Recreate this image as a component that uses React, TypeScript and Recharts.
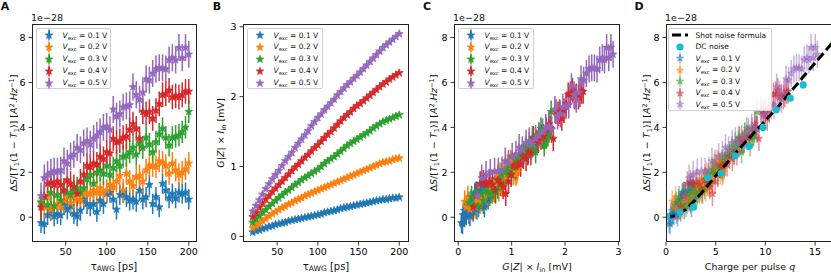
import React from "react";
import { ScatterChart, Scatter, XAxis, YAxis, ErrorBar } from "recharts";

const FONT = "'DejaVu Sans', sans-serif";

// pulse duration grid (ps)
const TAU = [
  20, 24, 28, 32, 36, 40, 44, 48, 52, 56, 60, 64, 68, 72, 76, 80, 84, 88, 92, 96,
  100, 104, 108, 112, 116, 120, 124, 128, 132, 136, 140, 144, 148, 152, 156, 160,
  164, 168, 172, 176, 180, 184, 188, 192, 196, 200,
];

const VEXC = ["0.1", "0.2", "0.3", "0.4", "0.5"];
const COLORS = ["#1f77b4", "#ff7f0e", "#2ca02c", "#d62728", "#9467bd"];
const ERR_BAR = [0.45, 0.5, 0.5, 0.55, 0.6];

// panel A: excess noise (units of 1e-28 A^2/Hz)
const NOISE_01 = [
  -0.25, -0.3, 0.1, 0.3, 0.05, 0.15, 0.1, 0.55, 0.35, 0.5, 0.15, 0.05, 0.3, 0.8, 0.6, 0.5,
  0.6, 0.25, 0.75, 0.6, 1.05, 1.1, 0.8, 0.35, 1.0, 1.1, 0.9, 0.75, 0.8, 0.7, 1.2, 0.8, 0.9,
  1.45, 0.6, 0.9, 0.45, 1.5, 1.2, 0.85, 1.05, 0.85, 1.1, 1.05, 1.1, 0.8,
];
const NOISE_02 = [
  0.7, 0.45, 0.9, 0.35, 0.5, 0.6, 0.45, 0.75, 0.9, 0.65, 0.9, 0.8, 0.75, 1.0, 1.1, 1.05,
  1.2, 1.1, 1.3, 1.1, 1.2, 1.45, 1.35, 1.6, 1.85, 1.2, 1.95, 1.6, 1.4, 1.8, 1.85, 1.6, 2.1,
  2.3, 2.3, 2.25, 2.5, 2.45, 2.3, 1.95, 2.4, 2.1, 1.9, 2.0, 2.15, 2.4,
];
const NOISE_03 = [
  0.65, 0.9, 0.55, 1.1, 0.5, 1.0, 0.75, 1.2, 1.1, 1.0, 1.15, 1.3, 1.1, 1.3, 1.7, 1.9, 1.5,
  2.0, 2.1, 1.95, 2.3, 1.9, 2.2, 2.5, 2.3, 2.7, 2.75, 2.9, 3.1, 2.8, 3.3, 3.1, 3.55, 3.25,
  2.9, 3.35, 3.7, 3.95, 3.55, 3.2, 3.55, 3.6, 3.65, 3.8, 4.0, 4.7,
];
const NOISE_04 = [
  0.45, 0.95, 1.5, 1.55, 1.45, 1.6, 1.45, 1.2, 1.65, 1.5, 1.35, 1.05, 1.6, 1.9, 2.3, 2.25,
  2.4, 2.35, 2.7, 2.6, 2.9, 2.85, 3.5, 3.35, 3.4, 3.55, 3.6, 3.9, 4.15, 3.95, 3.5, 4.7, 4.6,
  4.7, 4.4, 4.75, 5.05, 5.45, 5.5, 5.65, 5.35, 5.4, 5.35, 5.45, 5.6, 5.6,
];
const NOISE_05 = [
  0.95, 1.75, 1.9, 2.0, 2.05, 2.05, 2.1, 2.5, 2.4, 2.7, 2.8, 3.1, 3.0, 3.3, 3.4, 3.25, 3.5,
  3.65, 3.8, 4.0, 4.05, 3.9, 4.8, 4.5, 4.6, 4.9, 4.95, 5.0, 5.8, 5.45, 5.25, 5.55, 6.15, 6.1,
  6.4, 6.6, 6.65, 6.65, 6.6, 7.0, 7.1, 7.0, 7.55, 7.1, 7.55, 7.25,
];

// panel B: G|Z| x I_in (mV)
const GAIN_01 = [
  0.06, 0.08, 0.09, 0.11, 0.12, 0.14, 0.15, 0.17, 0.18, 0.19, 0.2, 0.22, 0.23, 0.24, 0.25,
  0.26, 0.27, 0.28, 0.29, 0.3, 0.31, 0.32, 0.34, 0.35, 0.36, 0.37, 0.38, 0.4, 0.41, 0.42,
  0.43, 0.44, 0.45, 0.46, 0.47, 0.48, 0.49, 0.5, 0.51, 0.52, 0.53, 0.53, 0.54, 0.55, 0.55,
  0.56,
];
const GAIN_02 = [
  0.12, 0.15, 0.18, 0.22, 0.25, 0.29, 0.32, 0.35, 0.38, 0.41, 0.43, 0.46, 0.48, 0.51, 0.53,
  0.55, 0.58, 0.6, 0.62, 0.64, 0.66, 0.68, 0.7, 0.72, 0.74, 0.76, 0.78, 0.8, 0.82, 0.84,
  0.86, 0.88, 0.9, 0.92, 0.94, 0.96, 0.98, 1.0, 1.02, 1.04, 1.06, 1.07, 1.08, 1.1, 1.11,
  1.12,
];
const GAIN_03 = [
  0.2, 0.25, 0.29, 0.34, 0.38, 0.43, 0.47, 0.51, 0.55, 0.59, 0.63, 0.66, 0.7, 0.74, 0.77,
  0.81, 0.84, 0.87, 0.9, 0.93, 0.96, 1.0, 1.04, 1.08, 1.11, 1.14, 1.18, 1.22, 1.26, 1.3,
  1.33, 1.36, 1.39, 1.42, 1.45, 1.48, 1.51, 1.55, 1.58, 1.61, 1.64, 1.66, 1.68, 1.7, 1.72,
  1.74,
];
const GAIN_04 = [
  0.28, 0.34, 0.41, 0.47, 0.53, 0.58, 0.64, 0.69, 0.74, 0.79, 0.84, 0.89, 0.94, 0.99, 1.03,
  1.08, 1.13, 1.17, 1.22, 1.27, 1.31, 1.36, 1.41, 1.46, 1.5, 1.55, 1.6, 1.65, 1.7, 1.74,
  1.78, 1.83, 1.87, 1.9, 1.94, 1.98, 2.02, 2.06, 2.1, 2.14, 2.18, 2.21, 2.25, 2.28, 2.31,
  2.34,
];
const GAIN_05 = [
  0.36, 0.44, 0.52, 0.6, 0.68, 0.75, 0.82, 0.88, 0.94, 1.01, 1.08, 1.14, 1.2, 1.27, 1.33,
  1.39, 1.45, 1.51, 1.58, 1.64, 1.7, 1.75, 1.81, 1.86, 1.91, 1.96, 2.02, 2.07, 2.12, 2.17,
  2.21, 2.26, 2.3, 2.35, 2.4, 2.45, 2.5, 2.55, 2.6, 2.65, 2.7, 2.74, 2.78, 2.82, 2.86, 2.9,
];

// panel D
const Q_PER_MV = 5.25; // charge per pulse for 1 mV of G|Z| x I_in
const DC_Q = [0.07, 1.42, 2.77, 4.19, 5.54, 6.93, 8.34, 9.76, 11.1, 12.5, 13.8];
const DC_S = [0.03, 0.22, 0.45, 1.77, 1.96, 2.73, 3.15, 4.0, 4.78, 5.3, 5.89];
const SHOT_Q = [0, 1, 2, 3, 4, 5, 6, 8, 10, 12, 14, 16.8];
const SHOT_S = [0, 0.08, 0.35, 0.8, 1.3, 1.85, 2.35, 3.35, 4.3, 5.3, 6.35, 7.8];

const TAU_TICKS = [50, 100, 150, 200];
const NOISE_TICKS = [0, 2, 4, 6, 8];
const GAIN_TICKS = [0, 1, 2, 3];
const Q_TICKS = [0, 5, 10, 15];

const NOISE = [NOISE_01, NOISE_02, NOISE_03, NOISE_04, NOISE_05];
const GAIN = [GAIN_01, GAIN_02, GAIN_03, GAIN_04, GAIN_05];

const PLOT_TOP = 24;
const PLOT_H = 218;
const AXIS_W = 40;
const AXIS_H = 25;

function starPath(cx: number, cy: number, R: number) {
  let d = "";
  for (let i = 0; i < 10; i++) {
    const rad = i % 2 === 0 ? R : R * 0.42;
    const a = -Math.PI / 2 + (i * Math.PI) / 5;
    d += (i ? "L" : "M") + (cx + rad * Math.cos(a)).toFixed(2) + "," + (cy + rad * Math.sin(a)).toFixed(2);
  }
  return d + "Z";
}

const starShape = (color: string, R: number, alpha: number) => (p: any) =>
  p.cx == null ? (
    <g />
  ) : (
    <path
      d={starPath(p.cx, p.cy, R)}
      fill={color}
      stroke={color}
      strokeWidth={0.7}
      fillOpacity={alpha}
      strokeOpacity={alpha}
    />
  );

const dotShape = (color: string, r: number) => (p: any) =>
  p.cx == null ? <g /> : <circle cx={p.cx} cy={p.cy} r={r} fill={color} />;

const noShape = () => <g />;

function Panel({ plotLeft, plotWidth, xDomain, yDomain, xTicks, yTicks, children }: any) {
  const tick = { fill: "#000", fontSize: 9.5, fontFamily: FONT };
  return (
    <div style={{ position: "absolute", left: plotLeft - AXIS_W, top: 0 }}>
      <ScatterChart
        width={AXIS_W + plotWidth + 2}
        height={PLOT_TOP + PLOT_H + AXIS_H}
        margin={{ top: PLOT_TOP, right: 2, bottom: 0, left: 0 }}
      >
        <XAxis
          type="number"
          dataKey="x"
          domain={xDomain}
          ticks={xTicks}
          interval={0}
          allowDataOverflow
          height={AXIS_H}
          axisLine={false}
          tickLine={{ stroke: "#000", strokeWidth: 0.8 }}
          tickSize={3.5}
          tickMargin={3}
          tick={tick}
        />
        <YAxis
          type="number"
          dataKey="y"
          domain={yDomain}
          ticks={yTicks}
          interval={0}
          allowDataOverflow
          width={AXIS_W}
          axisLine={false}
          tickLine={{ stroke: "#000", strokeWidth: 0.8 }}
          tickSize={3.5}
          tickMargin={3}
          tick={tick}
        />
        {children}
      </ScatterChart>
      <div
        style={{
          position: "absolute",
          left: AXIS_W,
          top: PLOT_TOP,
          width: plotWidth,
          height: PLOT_H,
          border: "1px solid #222",
          boxSizing: "border-box",
          pointerEvents: "none",
        }}
      />
    </div>
  );
}

const sub: React.CSSProperties = { fontSize: "0.7em", verticalAlign: "-0.3em", lineHeight: 0 };
const sup: React.CSSProperties = { fontSize: "0.7em", verticalAlign: "0.5em", lineHeight: 0 };

const NoiseLabel = () => (
  <span>
    Δ<i>S</i>/[<i>T</i>
    <span style={sub}>1</span>(1 − <i>T</i>
    <span style={sub}>1</span>)] [<i>A</i>
    <span style={sup}>2</span>.<i>Hz</i>
    <span style={sup}>−1</span>]
  </span>
);
const GainLabel = () => (
  <span>
    <i>G</i>|<i>Z</i>| × <i>I</i>
    <span style={sub}>in</span> [mV]
  </span>
);
const TauLabel = () => (
  <span>
    τ<span style={{ ...sub, fontSize: "0.75em", verticalAlign: "-0.1em" }}>AWG</span> [ps]
  </span>
);
const VexcText = ({ v }: { v: string }) => (
  <span>
    <i>V</i>
    <span style={sub}>exc</span> = {v} V
  </span>
);

function Text({ x, y, size = 9.5, rotate = false, bold = false, children }: any) {
  return (
    <div style={{ position: "absolute", left: x, top: y, width: 0, height: 0 }}>
      <div
        style={{
          position: "absolute",
          left: 0,
          top: 0,
          transform: `translate(-50%,-50%)${rotate ? " rotate(-90deg)" : ""}`,
          whiteSpace: "nowrap",
          fontSize: size,
          lineHeight: `${size + 2}px`,
          fontWeight: bold ? "bold" : "normal",
        }}
      >
        {children}
      </div>
    </div>
  );
}

function StarHandle({ color, alpha, bar }: { color: string; alpha: number; bar: boolean }) {
  return (
    <svg width={12} height={12} style={{ display: "block" }}>
      {bar && <line x1={6} x2={6} y1={0.5} y2={11.5} stroke={color} strokeWidth={1.5} strokeOpacity={alpha} />}
      <path d={starPath(6, 6.3, 4)} fill={color} stroke={color} strokeWidth={0.7} fillOpacity={alpha} strokeOpacity={alpha} />
    </svg>
  );
}

function LegendBox({ left, top, width, rows, markerX, textX, rowH }: any) {
  return (
    <div
      style={{
        position: "absolute",
        left,
        top,
        width,
        height: rows.length * rowH + 2,
        border: "1px solid #d0d0d0",
        borderRadius: 2,
        background: "rgba(255,255,255,0.85)",
        boxSizing: "border-box",
        fontSize: 7.5,
      }}
    >
      {rows.map((r: any, i: number) => (
        <div key={i} style={{ position: "absolute", top: 0.5 + i * rowH, height: rowH, left: 0, width: "100%" }}>
          <div style={{ position: "absolute", left: markerX - 8, top: rowH / 2 - 6, width: 16, display: "flex", justifyContent: "center" }}>
            {r.marker}
          </div>
          <div style={{ position: "absolute", left: textX, top: 0, lineHeight: `${rowH}px`, whiteSpace: "nowrap" }}>{r.label}</div>
        </div>
      ))}
    </div>
  );
}

function vexcRows(alpha: number, bar: boolean) {
  return VEXC.map((v, i) => ({
    marker: <StarHandle color={COLORS[i]} alpha={alpha} bar={bar} />,
    label: <VexcText v={v} />,
  }));
}

function noiseSeries(xOf: (i: number, k: number) => number, alpha: number) {
  return VEXC.map((v, i) => (
    <Scatter
      key={v}
      name={v}
      data={TAU.map((t, k) => ({ x: xOf(i, k), y: NOISE[i][k], e: ERR_BAR[i] }))}
      shape={starShape(COLORS[i], 4, alpha)}
      isAnimationActive={false}
    >
      <ErrorBar
        dataKey="e"
        direction="y"
        width={0}
        stroke={COLORS[i]}
        strokeWidth={1.5}
        strokeOpacity={alpha}
        isAnimationActive={false}
      />
    </Scatter>
  ));
}

export default function App() {
  const shotData = SHOT_Q.map((q, k) => ({ x: q, y: SHOT_S[k] }));
  const dcData = DC_Q.map((q, k) => ({ x: q, y: DC_S[k] }));
  return (
    <div
      style={{
        position: "absolute",
        left: 0,
        top: 0,
        width: 831,
        height: 273,
        overflow: "hidden",
        background: "#fff",
        fontFamily: FONT,
        color: "#111",
      }}
    >
      {/* A */}
      <Panel plotLeft={32} plotWidth={165} xDomain={[9, 210]} yDomain={[-1.1, 8.6]} xTicks={TAU_TICKS} yTicks={NOISE_TICKS}>
        {noiseSeries((i, k) => TAU[k], 1)}
      </Panel>

      {/* B */}
      <Panel plotLeft={243} plotWidth={166} xDomain={[8, 212]} yDomain={[-0.08, 3.04]} xTicks={TAU_TICKS} yTicks={GAIN_TICKS}>
        {VEXC.map((v, i) => (
          <Scatter
            key={v}
            data={TAU.map((t, k) => ({ x: t, y: GAIN[i][k] }))}
            shape={starShape(COLORS[i], 4.2, 1)}
            isAnimationActive={false}
          />
        ))}
      </Panel>

      {/* C */}
      <Panel plotLeft={454} plotWidth={166} xDomain={[-0.08, 3.03]} yDomain={[-1.1, 8.6]} xTicks={GAIN_TICKS} yTicks={NOISE_TICKS}>
        {noiseSeries((i, k) => GAIN[i][k], 1)}
      </Panel>

      {/* D */}
      <Panel plotLeft={666} plotWidth={167} xDomain={[0, 16.8]} yDomain={[-1.1, 8.6]} xTicks={Q_TICKS} yTicks={NOISE_TICKS}>
        {noiseSeries((i, k) => GAIN[i][k] * Q_PER_MV, 0.5)}
        <Scatter
          data={shotData}
          shape={noShape}
          line={{ stroke: "#000", strokeWidth: 3, strokeDasharray: "9 4" }}
          isAnimationActive={false}
        />
        <Scatter data={dcData} shape={dotShape("#17becf", 3.6)} isAnimationActive={false} />
      </Panel>

      {/* legends */}
      <LegendBox left={36} top={28} width={75} rows={vexcRows(1, true)} markerX={11.5} textX={25.5} rowH={11.8} />
      <LegendBox left={247} top={28} width={76} rows={vexcRows(1, false)} markerX={11.5} textX={25.5} rowH={11.8} />
      <LegendBox left={458} top={28} width={76} rows={vexcRows(1, true)} markerX={11.5} textX={25.5} rowH={11.8} />
      <LegendBox
        left={668}
        top={28}
        width={104}
        rowH={11.5}
        markerX={11}
        textX={26.5}
        rows={[
          {
            marker: (
              <svg width={16} height={12} style={{ display: "block" }}>
                <line x1={0} x2={16} y1={6} y2={6} stroke="#000" strokeWidth={3} strokeDasharray="9 4" />
              </svg>
            ),
            label: "Shot noise formula",
          },
          {
            marker: (
              <svg width={12} height={12} style={{ display: "block" }}>
                <circle cx={6} cy={6} r={3.6} fill="#17becf" />
              </svg>
            ),
            label: "DC noise",
          },
          ...vexcRows(0.5, true),
        ]}
      />

      {/* panel letters */}
      <Text x={5} y={6} size={11} bold>A</Text>
      <Text x={217} y={6} size={11} bold>B</Text>
      <Text x={427} y={6} size={11} bold>C</Text>
      <Text x={639} y={6} size={11} bold>D</Text>

      {/* offsets */}
      <Text x={47} y={18}>1e−28</Text>
      <Text x={469} y={18}>1e−28</Text>
      <Text x={681} y={18}>1e−28</Text>

      {/* y labels */}
      <Text x={13.5} y={133} rotate><NoiseLabel /></Text>
      <Text x={221} y={133} rotate><GainLabel /></Text>
      <Text x={434} y={133} rotate><NoiseLabel /></Text>
      <Text x={647} y={133} rotate><NoiseLabel /></Text>

      {/* x labels */}
      <Text x={114} y={267} size={10}><TauLabel /></Text>
      <Text x={326} y={267} size={10}><TauLabel /></Text>
      <Text x={537} y={267}><GainLabel /></Text>
      <Text x={750} y={267}>
        Charge per pulse <i>q</i>
      </Text>
    </div>
  );
}
